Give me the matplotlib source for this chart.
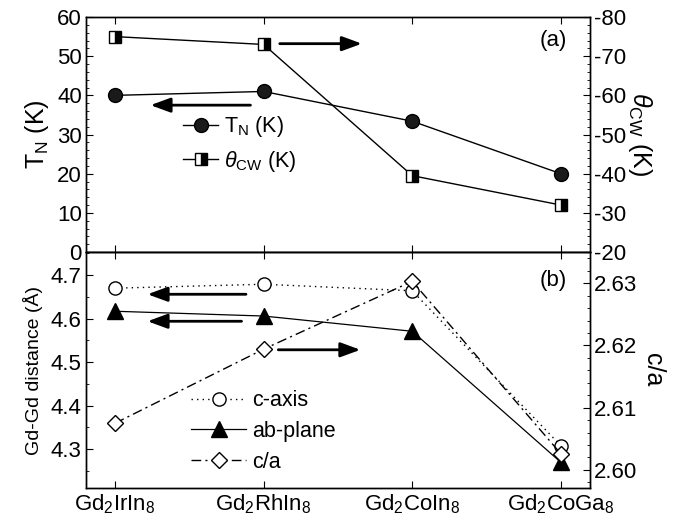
import matplotlib
matplotlib.use('Agg')
import matplotlib.pyplot as plt
from matplotlib.ticker import MultipleLocator, FormatStrFormatter

plt.rcParams['font.family'] = ['Liberation Sans', 'DejaVu Sans']
plt.rcParams['mathtext.fontset'] = 'custom'
plt.rcParams['mathtext.rm'] = 'Liberation Sans'
plt.rcParams['mathtext.it'] = 'Liberation Sans:italic'
plt.rcParams['axes.unicode_minus'] = False

# compounds along x
compounds = ['Gd$_2$IrIn$_8$', 'Gd$_2$RhIn$_8$', 'Gd$_2$CoIn$_8$', 'Gd$_2$CoGa$_8$']
xpos = [0, 1, 2, 3]

# panel (a)
tn = [40.0, 41.0, 33.4, 20.0]
theta_cw = [-75.0, -73.0, -39.5, -32.0]

# panel (b)
c_axis = [4.670, 4.679, 4.664, 4.308]
ab_plane = [4.617, 4.606, 4.571, 4.270]
c_over_a = [2.6075, 2.6194, 2.6303, 2.6026]

fs = 16
fig = plt.figure(figsize=(6.79, 5.24), dpi=100)
ax1 = fig.add_axes([0.1267, 0.519, 0.742, 0.4485])
ax2 = fig.add_axes([0.1267, 0.0687, 0.742, 0.4503])
ax1r = ax1.twinx()
ax2r = ax2.twinx()

# ---- top panel ----
l1, = ax1.plot(xpos, tn, '-', color='black', lw=1, marker='o', ms=10,
               mfc='#1a1a1a', mec='black', label='T$_\\mathregular{N}$ (K)')
l2, = ax1r.plot(xpos, theta_cw, '-', color='black', lw=1, marker='s', ms=8.5,
                fillstyle='right', mfc='black', mfcalt='white', mec='black',
                label='$\\theta_{\\mathregular{CW}}$ (K)')
ax1.set_xlim(-0.195, 3.195)
ax1.set_ylim(0, 60)
ax1r.set_ylim(-20, -80)
ax1.yaxis.set_major_locator(MultipleLocator(10))
ax1.yaxis.set_minor_locator(MultipleLocator(2))
ax1r.yaxis.set_major_locator(MultipleLocator(10))
ax1r.yaxis.set_minor_locator(MultipleLocator(2))
ax1.set_xticks(xpos)
ax1.set_xticklabels([])
ax1.set_ylabel('T$_\\mathregular{N}$ (K)', fontsize=18, labelpad=4)
ax1r.set_ylabel('$\\theta_{\\mathregular{CW}}$ (K)', fontsize=18, rotation=270, labelpad=20)
ax1.text(0.955, 0.9, '(a)', transform=ax1.transAxes, fontsize=fs, ha='right', va='center')
ax1.legend(handles=[l1, l2], loc='center left', bbox_to_anchor=(0.155, 0.46),
           frameon=False, fontsize=15.5, handlelength=1.6, handletextpad=0.3,
           labelspacing=0.45)

arrow = dict(arrowstyle='-|>,head_length=0.6,head_width=0.22', lw=2,
             color='black', mutation_scale=20)
ax1.annotate('', xy=(0.22, 37.5), xytext=(0.93, 37.5), arrowprops=arrow)
ax1r.annotate('', xy=(1.68, -73.2), xytext=(1.09, -73.2), arrowprops=arrow)

# ---- bottom panel ----
l3, = ax2.plot(xpos, c_axis, color='black', lw=1, ls=(0, (1, 3)), marker='o', ms=9.5,
               mfc='white', mec='black', label='c-axis')
l4, = ax2.plot(xpos, ab_plane, '-', color='black', lw=0.9, marker='^', ms=11,
               mfc='black', mec='black', label='ab-plane')
l5, = ax2r.plot(xpos, c_over_a, color='black', lw=1, ls=(0, (7, 3, 1.5, 3)),
                marker='D', ms=8.5, mfc='white', mec='black', label='c/a')
ax2.set_xlim(-0.195, 3.195)
ax2.set_ylim(4.211, 4.753)
ax2r.set_ylim(2.5971, 2.6350)
ax2.yaxis.set_major_locator(MultipleLocator(0.1))
ax2.yaxis.set_minor_locator(MultipleLocator(0.05))
ax2r.yaxis.set_major_locator(MultipleLocator(0.01))
ax2r.yaxis.set_minor_locator(MultipleLocator(0.002))
ax2r.yaxis.set_major_formatter(FormatStrFormatter('%.2f'))
ax2.set_xticks(xpos)
ax2.set_xticklabels(compounds, fontsize=fs)
ax2.set_ylabel('Gd-Gd distance (Å)', fontsize=14, labelpad=6)
ax2r.set_ylabel('c/a', fontsize=18, rotation=270, labelpad=20)
ax2.text(0.955, 0.88, '(b)', transform=ax2.transAxes, fontsize=fs, ha='right', va='center')
ax2.legend(handles=[l3, l4, l5], loc='center left', bbox_to_anchor=(0.17, 0.24),
           frameon=False, fontsize=15.5, handlelength=2.55, handletextpad=0.3,
           labelspacing=0.45)

ax2.annotate('', xy=(0.2, 4.656), xytext=(0.9, 4.656), arrowprops=arrow)
ax2.annotate('', xy=(0.2, 4.594), xytext=(0.87, 4.594), arrowprops=arrow)
ax2r.annotate('', xy=(1.67, 2.6193), xytext=(1.08, 2.6193), arrowprops=arrow)

for a in (ax1, ax2, ax1r, ax2r):
    a.tick_params(which='both', direction='in', top=True, labelsize=fs)
    a.tick_params(which='major', length=5, pad=3)
    a.tick_params(which='minor', length=2.5)
    for s in a.spines.values():
        s.set_linewidth(1)
ax1.tick_params(axis='x', which='minor', top=False, bottom=False)
ax2.tick_params(axis='x', which='minor', top=False, bottom=False)

fig.savefig('out.png', dpi=100)
